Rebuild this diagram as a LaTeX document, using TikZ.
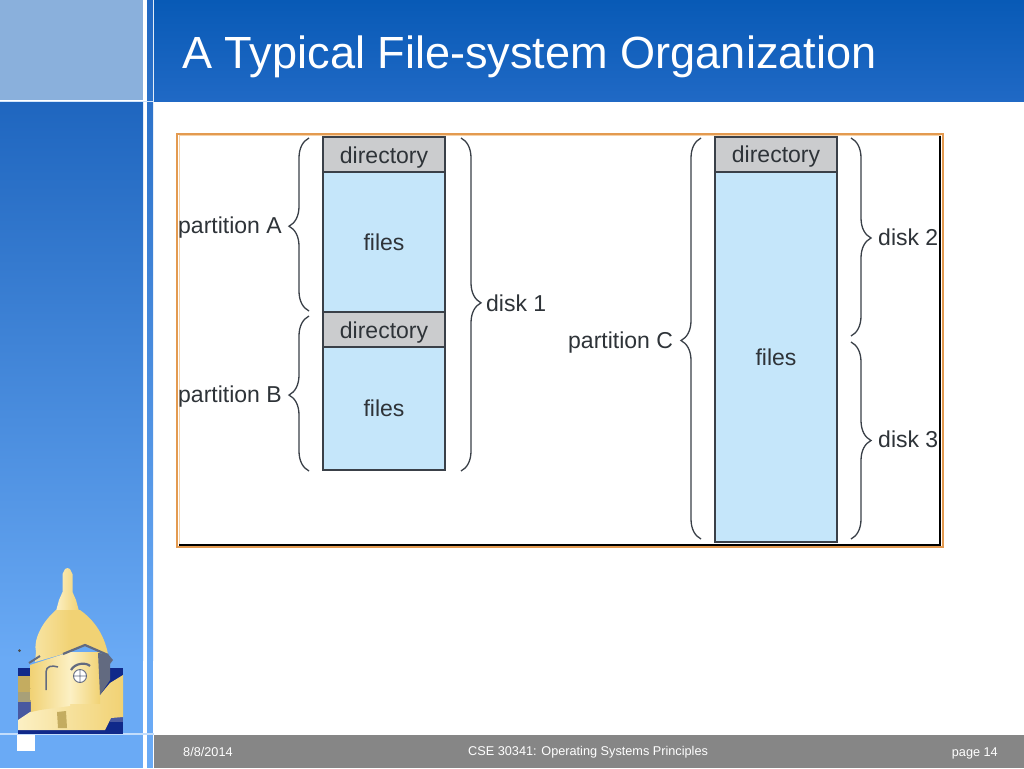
\documentclass[tikz,border=0pt]{standalone}
\usepackage{fontspec}
\setmainfont{Liberation Sans}
\usetikzlibrary{%
        decorations.pathreplacing,%
        positioning%
    }
\definecolor{filesblue}{HTML}{C5E6FA}
\definecolor{dirgray}{HTML}{CBCCCE}
\definecolor{edgegray}{HTML}{3A4048}
\definecolor{textgray}{HTML}{2E3338}
\definecolor{frameorange}{HTML}{E39A50}
\definecolor{framelight}{HTML}{F6D2A8}
\definecolor{domegold}{HTML}{F1D274}
\definecolor{domepale}{HTML}{FCF0C4}
\definecolor{domeshade}{HTML}{626A80}
\definecolor{domenavy}{HTML}{10298A}
\definecolor{domeochre}{HTML}{C4AC60}
\definecolor{domekhaki}{HTML}{A8A078}
\definecolor{domeslate}{HTML}{4858A0}
\definecolor{sidetop}{HTML}{1F66BF}
\definecolor{sidelow}{HTML}{6AAAF5}
\definecolor{cornerblue}{HTML}{8AB0DC}
\definecolor{stripblue}{HTML}{2168C2}
\definecolor{titletop}{HTML}{085AB6}
\definecolor{titlelow}{HTML}{2069C5}
\definecolor{footgray}{HTML}{868686}
\begin{document}
\begin{tikzpicture}[
        x=1pt,y=-1pt,
        every node/.style={font={\fontsize{23}{26}\selectfont},text=textgray},
        dirbox/.style={draw=edgegray,line width=1.2pt,fill=dirgray,inner sep=0pt,outer sep=0pt,minimum width=122pt,minimum height=35pt,text height=17pt,text depth=0pt},
        filebox/.style={draw=edgegray,line width=1.2pt,fill=filesblue,inner sep=0pt,outer sep=0pt,minimum width=122pt},
        curly/.style={draw=edgegray,line width=1.3pt,decorate,decoration={brace,amplitude=20pt,aspect=#1}},
        curly/.default=0.5,
        label text/.style={anchor=base west,inner sep=0pt},
        footer/.style={font={\fontsize{12.7}{14}\selectfont},text=white}
        ]
        \useasboundingbox (0,0) rectangle (1024,768);

        % Slide background
        \fill[white] (0,0) rectangle (1024,768);
        \shade[top color=sidetop,bottom color=sidelow] (0,102) rectangle (143,660);
        \fill[sidelow] (0,660) rectangle (143,768);
        \fill[cornerblue] (0,0) rectangle (143,100);
        \shade[top color=stripblue,bottom color=sidelow] (147,0) rectangle (153,660);
        \fill[sidelow] (147,660) rectangle (153,768);
        \shade[top color=titletop,bottom color=titlelow] (154,0) rectangle (1024,101);
        \fill[white!70!sidelow] (0,100.5) rectangle (154,102);
        \fill[footgray] (154,735) rectangle (1024,768);
        \fill[white!60!sidelow] (0,733) rectangle (154,734.5);
        \fill[white] (17,735) rectangle (35,751);

        % Title
        \node[font={\fontsize{45.1}{48}\selectfont},text=white,anchor=base west,inner sep=0pt] (title) at (182,68) {A Typical File-system Organization};

        % Frame
        \draw[framelight,line width=1pt] (179,135.5) rectangle (940,545);
        \draw[frameorange,line width=2pt] (176.5,133.5) -- (942.5,133.5) -- (942.5,547) -- (176.5,547) -- cycle;
        \draw[black,line width=2pt] (179,544.5) -- (940,544.5) -- (940,135.5);

        % Disk 1
        \node[dirbox] (dirA) at (384,154.5) {directory};
        \node[filebox,minimum height=140pt,below=0pt of dirA] (filesA) {files};
        \node[dirbox,below=0pt of filesA] (dirB) {directory};
        \node[filebox,minimum height=123pt,below=0pt of dirB] (filesB) {files};

        % Disk 2 and 3
        \node[dirbox,text height=16pt] (dirC) at (776,154.5) {directory};
        \node[filebox,minimum height=370pt,below=0pt of dirC] (filesC) {files};

        % Labels
        \node[label text] (labelA) at (178,233) {partition A};
        \node[label text] (labelB) at (178,402) {partition B};
        \node[label text] (labelC) at (568,348) {partition C};
        \node[label text] (labelOne) at (486,311) {disk 1};
        \node[label text] (labelTwo) at (878,245) {disk 2};
        \node[label text] (labelThree) at (878,447) {disk 3};

        % Brace ends
        \coordinate (a0) at (309,311);
        \coordinate (a1) at (309,138);
        \coordinate (b0) at (309,471);
        \coordinate (b1) at (309,316);
        \coordinate (c0) at (701,539);
        \coordinate (c1) at (701,138);
        \coordinate (d0) at (461,138);
        \coordinate (d1) at (461,471);
        \coordinate (e0) at (851,138);
        \coordinate (e1) at (851,336);
        \coordinate (f0) at (851,342);
        \coordinate (f1) at (851,539);

        % Braces
        \draw[curly=0.49] (a0) -- (a1);
        \draw[curly=0.49] (b0) -- (b1);
        \draw[curly=0.495] (c0) -- (c1);
        \draw[curly=0.495] (d0) -- (d1);
        \draw[curly=0.505] (e0) -- (e1);
        \draw[curly=0.5] (f0) -- (f1);

        % Dome: back wall with stripes
        \fill[domenavy] (18,668) rectangle (123,734);
        \fill[domeochre] (18,676) rectangle (36,692);
        \fill[domekhaki] (18,692) rectangle (36,702);
        \fill[domeslate] (18,702) rectangle (36,720);
        \fill[domeslate] (110,717) rectangle (123,722);
        % Base
        \shade[left color=domepale,right color=domegold] (18,730) -- (18,720) -- (30,712) -- (55,704) -- (100,695) -- (110,683) -- (123,675) -- (123,717) -- (111,718) -- (105,730) -- cycle;
        % Walls
        \shade[left color=domegold,right color=domepale] (30,665) -- (70,652) -- (70,706) -- (40,710) -- (31,712) -- cycle;
        \shade[left color=domepale,right color=domegold] (70,652) -- (100,652) -- (100,703) -- (70,703) -- cycle;
        % Cupola and dome
        \shade[left color=domepale,right color=domegold] (56,611) -- (59,600) -- (62.5,592) -- (62.5,574) -- (65,569) -- (67.5,568) -- (70,569) -- (72.5,574) -- (72.5,592) -- (76,600) -- (79,611) -- cycle;
        \shade[left color=domepale!60!domegold,right color=domegold,middle color=domegold] (36,652) .. controls (33,640) and (42,622) .. (56,610) -- (80,610) .. controls (94,620) and (104,634) .. (108,654) -- (85,646) -- (63,654) -- (35,662) -- cycle;
        % Shadow side and trim
        \fill[domeshade] (98,653) -- (108,654) -- (113,660) -- (110,664) -- (110,680) -- (100,695) -- cycle;
        \draw[domeshade,line width=2.2pt] (63,654) -- (85,645) -- (108,655);
        \draw[domeshade,line width=2pt] (29,663) -- (40,656);
        \draw[domeshade,line width=2.2pt] (71,670) .. controls (75,663) and (86,662) .. (90,666);
        \draw[domeshade,line width=1.5pt] (46,690) -- (46,672) .. controls (46,666) and (52,665) .. (58,667);
        % Round window
        \fill[white] (80,676) circle (6.5pt);
        \draw[domeshade,line width=.9pt] (80,676) circle (6.5pt) (73.5,676) -- (86.5,676) (80,669.5) -- (80,682.5);
        % Door
        \fill[domeochre] (57,712) -- (66,711) -- (67,728) -- (58,728) -- cycle;
        \fill[black!70] (19.5,650.5) circle (1.5pt);

        % Footer
        \node[footer,anchor=base west,inner sep=0pt] (date) at (183,756) {8/8/2014};
        \node[footer,anchor=base west,inner sep=0pt] (course) at (468,755) {CSE 30341: Operating Systems Principles};
        \node[footer,anchor=base east,inner sep=0pt] (pageno) at (998,756) {page 14};
    \end{tikzpicture}
\end{document}
